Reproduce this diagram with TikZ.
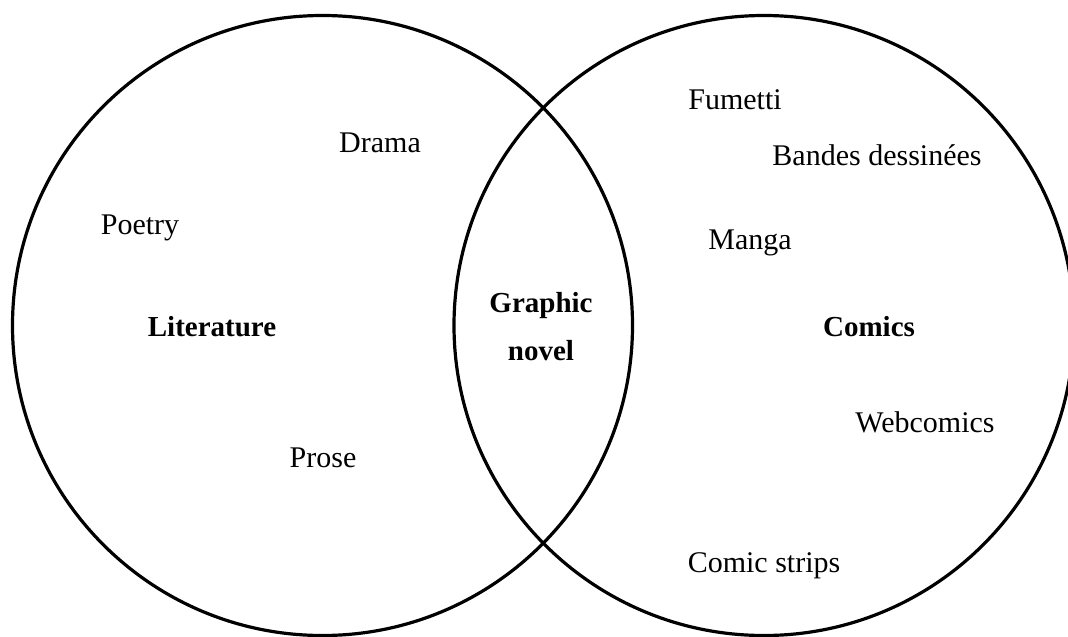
\documentclass[tikz,border=0pt]{standalone}
\usepackage{fontspec}
\setmainfont{Liberation Serif}
\begin{document}
\begin{tikzpicture}[x=1pt,y=-1pt,
  ring/.style={draw=black,line width=3.2pt},
  item/.style={font=\fontsize{30}{34}\selectfont,inner sep=0pt},
  head/.style={font=\fontsize{29}{48}\selectfont\bfseries,inner sep=0pt,align=center}]
\useasboundingbox (0,0) rectangle (1068,637);
\begin{scope}
\clip (0,0) rectangle (1068,637);
\draw[ring] (322.5,325.5) circle[radius=310];
\draw[ring] (764,325.5) circle[radius=310];
\end{scope}
\node[item] (drama) at (380,143) {Drama};
\node[item] (poetry) at (140,228) {Poetry};
\node[head] (lit) at (212,327) {Literature};
\node[item] (prose) at (323,458) {Prose};
\node[head] (gn) at (541,327) {Graphic\\novel};
\node[item] (fumetti) at (735,100) {Fumetti};
\node[item] (bd) at (877,155) {Bandes dessinées};
\node[item] (manga) at (750,243) {Manga};
\node[head] (comics) at (869,327) {Comics};
\node[item] (web) at (925,422) {Webcomics};
\node[item] (strips) at (764,566) {Comic strips};
\end{tikzpicture}
\end{document}
